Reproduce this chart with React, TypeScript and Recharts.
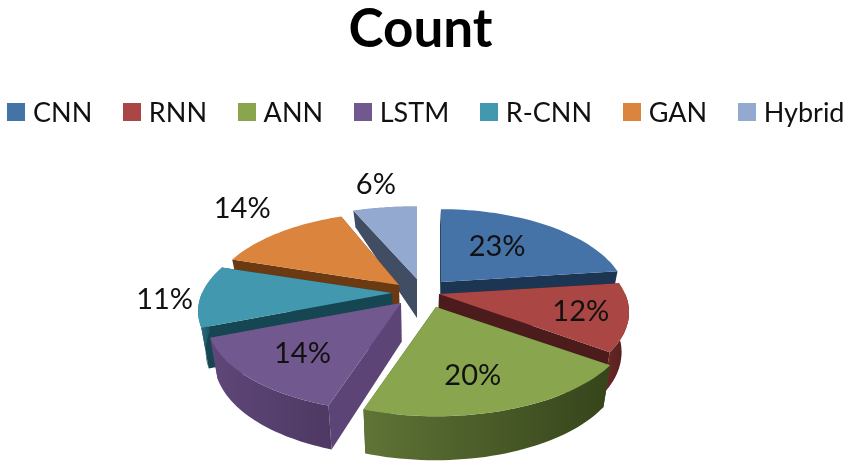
import React from "react";
import { PieChart, Pie, Legend } from "recharts";

const categories = ["CNN", "RNN", "ANN", "LSTM", "R-CNN", "GAN", "Hybrid"];
const shares = [23, 12, 20, 14, 11, 14, 6];
const rows = categories.map((name, i) => ({ name, value: shares[i] }));

const topColors = ["#4572A7", "#AA4643", "#89A54E", "#71588F", "#4198AF", "#DB843D", "#93A9CF"];
const sideColors = ["#1B3553", "#4C1B1B", "#3E4D22", "#5C4576", "#174653", "#6B3A12", "#414D62"];
const rimLight = ["#365A85", "#6E2A28", "#5F7436", "#5F4779", "#2F7487", "#A8622B", "#6F82A3"];
const rimDark = ["#24405F", "#4E1C1C", "#36441B", "#4D3963", "#1E5462", "#7C4618", "#4F5D75"];

// Exploded-slice shift from the pie's centre, width trim and label nudges.
const explodeX = [25, 23, 20, -15, -24, -17, 1];
const explodeY = [-10, 2, 15, 11, 1, -7, -13];
const slimX = [0.96, 0.98, 1, 1, 1, 0.98, 1.08];
const labelX = [-13, 28, -3, -13, -113, -80, -22];
const labelY = [-1, 2, 10, 7, 3, -45, -50];

// Painter's order: far slices first.
const paintOrder = [6, 0, 5, 4, 1, 3, 2];

const TILT = 0.46;
const PERSPECTIVE = 0.2;
const RAD = Math.PI / 180;

function screen(ax: number, ay: number, R: number, f: number, deg: number, slim = 1) {
  const c = Math.cos(deg * RAD);
  const z = Math.sin(deg * RAD);
  const s = 1 / (1 + PERSPECTIVE * z * f);
  return {
    x: ax + f * R * c * s * slim,
    y: ay - f * R * TILT * z * s,
    z: z * f,
  };
}

function drop(p: { x: number; y: number; z: number }, cx: number) {
  const depth = p.z > 0 ? 39 - 24 * p.z : 39 - 5 * p.z;
  return { x: p.x + (cx - p.x) * 0.035, y: p.y + depth };
}

const pts = (list: { x: number; y: number }[]) =>
  list.map((p) => `${p.x.toFixed(1)},${p.y.toFixed(1)}`).join(" ");

function Slice(props: any) {
  const { cx, cy, outerRadius: R, startAngle, endAngle, index } = props;
  const ax = cx + explodeX[index];
  const ay = cy + explodeY[index];
  const steps = 40;
  const arc = [];
  for (let k = 0; k <= steps; k++) {
    const deg = startAngle + ((endAngle - startAngle) * k) / steps;
    arc.push(screen(ax, ay, R, 1, deg, slimX[index]));
  }
  const apex = { x: ax, y: ay, z: 0 };
  const sideFace = (p: { x: number; y: number; z: number }) => [apex, p, drop(p, cx), drop(apex, cx)];
  const front = arc.filter((p) => p.z < 0.02);
  const gradId = `rim-${index}`;
  return (
    <g>
      <defs>
        <linearGradient id={gradId} x1="0" x2="1" y1="0" y2="0">
          <stop offset="0%" stopColor={rimLight[index]} />
          <stop offset="100%" stopColor={rimDark[index]} />
        </linearGradient>
      </defs>
      <polygon points={pts(sideFace(arc[0]))} fill={sideColors[index]} />
      <polygon points={pts(sideFace(arc[steps]))} fill={sideColors[index]} />
      {front.length > 1 && (
        <polygon
          points={pts([...front, ...[...front].reverse().map((p) => drop(p, cx))])}
          fill={`url(#${gradId})`}
        />
      )}
      <polygon points={pts([apex, ...arc])} fill={topColors[index]} />
    </g>
  );
}

function sliceLabel(props: any) {
  const { cx, cy, outerRadius: R, midAngle, index, percent } = props;
  const p = screen(cx + explodeX[index], cy + explodeY[index], R, 0.6, midAngle);
  return (
    <text
      key={index}
      x={p.x + labelX[index]}
      y={p.y + labelY[index]}
      textAnchor="middle"
      dominantBaseline="central"
      fontFamily="Lato, 'Open Sans', sans-serif"
      fontSize={29}
      fill="#111"
    >
      {`${Math.round(percent * 100)}%`}
    </text>
  );
}

function LegendRow() {
  return (
    <div style={{ display: "flex", alignItems: "center", gap: 30.6, marginLeft: 7, height: 30, whiteSpace: "nowrap" }}>
      {categories.map((name, i) => (
        <div key={name} style={{ display: "flex", alignItems: "center", gap: 8, flex: "none" }}>
          <span style={{ width: 18, height: 18, background: topColors[i], display: "inline-block" }} />
          <span style={{ fontFamily: "Lato, sans-serif", fontSize: 27, lineHeight: "30px", color: "#111" }}>{name}</span>
        </div>
      ))}
    </div>
  );
}

export default function App() {
  return (
    <div style={{ position: "absolute", left: 0, top: 0, width: 851, height: 467, background: "#fff", overflow: "hidden", filter: "blur(0.4px)" }}>
      <div
        style={{
          position: "absolute",
          left: 0,
          top: 0,
          width: 841,
          textAlign: "center",
          fontFamily: "Lato, sans-serif",
          fontWeight: 700,
          fontSize: 53,
          lineHeight: "54px",
          color: "#000",
        }}
      >
        Count
      </div>
      <PieChart width={851} height={467} margin={{ top: 0, right: 0, bottom: 0, left: 0 }}>
        <Legend
          layout="horizontal"
          verticalAlign="middle"
          align="center"
          wrapperStyle={{ top: 97, left: 0, width: 851 }}
          content={() => <LegendRow />}
        />
        {paintOrder.map((target) => (
          <Pie
            key={target}
            data={rows}
            dataKey="value"
            nameKey="name"
            cx={416}
            cy={292}
            innerRadius={0}
            outerRadius={190}
            startAngle={90}
            endAngle={-270}
            stroke="none"
            isAnimationActive={false}
            shape={(p: any) => (p.index === target ? <Slice {...p} /> : <g />)}
          />
        ))}
        <Pie
          data={rows}
          dataKey="value"
          nameKey="name"
          cx={416}
          cy={292}
          innerRadius={0}
          outerRadius={190}
          startAngle={90}
          endAngle={-270}
          stroke="none"
          isAnimationActive={false}
          shape={() => <g />}
          label={sliceLabel}
          labelLine={false}
        />
      </PieChart>
    </div>
  );
}
